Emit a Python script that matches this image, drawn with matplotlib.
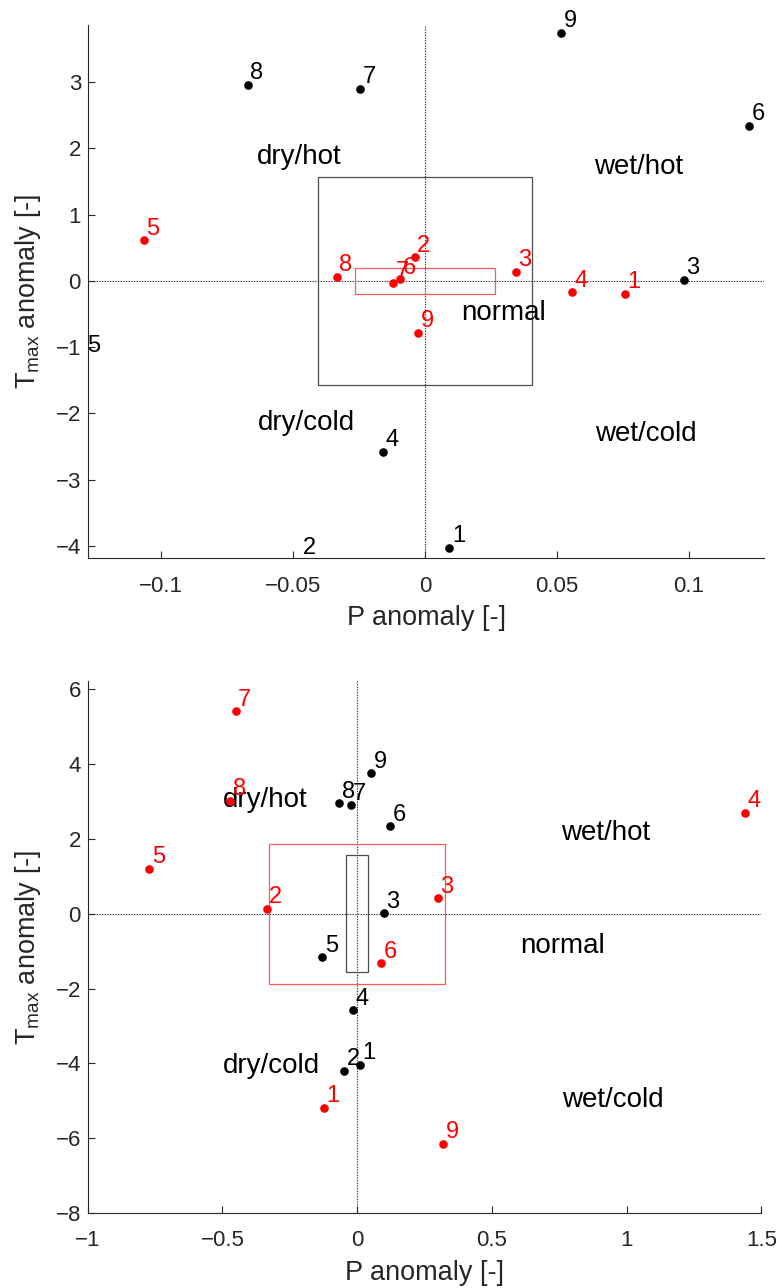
import matplotlib
matplotlib.use('Agg')
import matplotlib.pyplot as plt
from matplotlib.patches import Rectangle
from matplotlib.ticker import FuncFormatter
import numpy as np

plt.rcParams['font.family'] = ['Liberation Sans', 'DejaVu Sans']
plt.rcParams['mathtext.fontset'] = 'custom'
plt.rcParams['mathtext.rm'] = 'Liberation Sans'
plt.rcParams['mathtext.it'] = 'Liberation Sans'
plt.rcParams['mathtext.default'] = 'regular'

# ---------------- data ----------------
point_labels = ['1', '2', '3', '4', '5', '6', '7', '8', '9']

black_p = [0.0093, -0.047, 0.098, -0.016, -0.129, 0.1228, -0.0245, -0.0671, 0.0516]
black_t = [-4.03, -4.20, 0.02, -2.58, -1.16, 2.34, 2.90, 2.96, 3.75]

red_top_p = [0.0756, -0.0039, 0.0344, 0.0558, -0.1064, -0.0095, -0.012, -0.0333, -0.0026]
red_top_t = [-0.195, 0.36, 0.14, -0.17, 0.61, 0.027, -0.038, 0.062, -0.78]

red_bot_p = [-0.123, -0.335, 0.300, 1.441, -0.771, 0.089, -0.451, -0.471, 0.320]
red_bot_t = [-5.19, 0.14, 0.41, 2.70, 1.21, -1.325, 5.41, 3.02, -6.15]

black_box_half = (0.0405, 1.567)
red_box_half_top = (0.0266, 0.194)
red_box_half_bot = (0.327, 1.876)

top_xlim = (-0.1277, 0.1286)
top_ylim = (-4.19, 3.864)
bot_xlim = (-1.0, 1.5)
bot_ylim = (-8.0, 6.22)

top_xticks = [-0.1, -0.05, 0, 0.05, 0.1]
top_yticks = [-4, -3, -2, -1, 0, 1, 2, 3]
bot_xticks = [-1, -0.5, 0, 0.5, 1, 1.5]
bot_yticks = [-8, -6, -4, -2, 0, 2, 4, 6]

region_names = ['dry/hot', 'wet/hot', 'normal', 'dry/cold', 'wet/cold']
top_region_p = [-0.0638, 0.0642, 0.0136, -0.0634, 0.0646]
top_region_t = [1.76, 1.61, -0.59, -2.25, -2.42]
bot_region_p = [-0.498, 0.757, 0.606, -0.498, 0.759]
bot_region_t = [2.86, 1.97, -1.06, -4.25, -5.16]

xlabel_text = 'P anomaly [-]'
ylabel_text = 'T$_{max}$ anomaly [-]'

# ---------------- figure ----------------
fig = plt.figure(figsize=(7.82, 12.88), dpi=100)
ax_top = fig.add_axes([0.1121, 0.5665, 0.8655, 0.4141])
ax_bot = fig.add_axes([0.1121, 0.0582, 0.8615, 0.4130])

axis_col = '0.15'


def fmt(v, pos):
    s = '%g' % v
    return s.replace('-', '\u2212')


def draw_points(ax, xs, ys, color, xlim, ylim):
    xs = np.asarray(xs)
    ys = np.asarray(ys)
    inside = (xs >= xlim[0]) & (xs <= xlim[1]) & (ys >= ylim[0]) & (ys <= ylim[1])
    ax.plot(xs[inside], ys[inside], 'o', color=color, markersize=6.2,
            markeredgewidth=0, clip_on=False, zorder=4)
    for lab, x, y in zip(point_labels, xs, ys):
        ax.annotate(lab, (x, y), xytext=(2.5, 5.5), textcoords='offset pixels',
                    ha='left', va='baseline', fontsize=17, color=color,
                    annotation_clip=False, zorder=5)


def style(ax, xlim, ylim, xticks, yticks):
    ax.set_xlim(*xlim)
    ax.set_ylim(*ylim)
    ax.set_xticks(xticks)
    ax.set_yticks(yticks)
    ax.xaxis.set_major_formatter(FuncFormatter(fmt))
    ax.yaxis.set_major_formatter(FuncFormatter(fmt))
    for s in ['top', 'right']:
        ax.spines[s].set_visible(False)
    for s in ['left', 'bottom']:
        ax.spines[s].set_color(axis_col)
        ax.spines[s].set_linewidth(0.8)
    ax.tick_params(axis='both', direction='in', length=5.3, width=0.8,
                   color=axis_col, labelcolor=axis_col, labelsize=16)
    ax.tick_params(axis='x', pad=12.5)
    ax.tick_params(axis='y', pad=4.8)
    ax.set_xlabel(xlabel_text, fontsize=19.5, color=axis_col)
    ax.set_ylabel(ylabel_text, fontsize=19.5, color=axis_col)
    ax.xaxis.set_label_coords(0.5, -0.088)
    ax.yaxis.set_label_coords(-0.066, 0.5)


def draw_panel(ax, red_p, red_t, red_half, xlim, ylim, xticks, yticks, reg_p, reg_t):
    style(ax, xlim, ylim, xticks, yticks)
    ax.axhline(0, color='0.2', lw=0.8, ls=(0, (1.2, 1.2)), zorder=1)
    ax.axvline(0, color='0.2', lw=0.8, ls=(0, (1.2, 1.2)), zorder=1)
    bw, bh = black_box_half
    ax.add_patch(Rectangle((-bw, -bh), 2 * bw, 2 * bh, fill=False,
                           edgecolor='0.3', lw=0.9, zorder=2))
    rw, rh = red_half
    ax.add_patch(Rectangle((-rw, -rh), 2 * rw, 2 * rh, fill=False,
                           edgecolor=(1, 0.35, 0.35), lw=0.9, zorder=2))
    for name, x, y in zip(region_names, reg_p, reg_t):
        ax.text(x, y, name, fontsize=20, color='black', ha='left',
                va='baseline', zorder=3)
    draw_points(ax, black_p, black_t, 'black', xlim, ylim)
    draw_points(ax, red_p, red_t, 'red', xlim, ylim)


draw_panel(ax_top, red_top_p, red_top_t, red_box_half_top, top_xlim, top_ylim,
           top_xticks, top_yticks, top_region_p, top_region_t)
draw_panel(ax_bot, red_bot_p, red_bot_t, red_box_half_bot, bot_xlim, bot_ylim,
           bot_xticks, bot_yticks, bot_region_p, bot_region_t)

fig.savefig('out.png', dpi=100)
